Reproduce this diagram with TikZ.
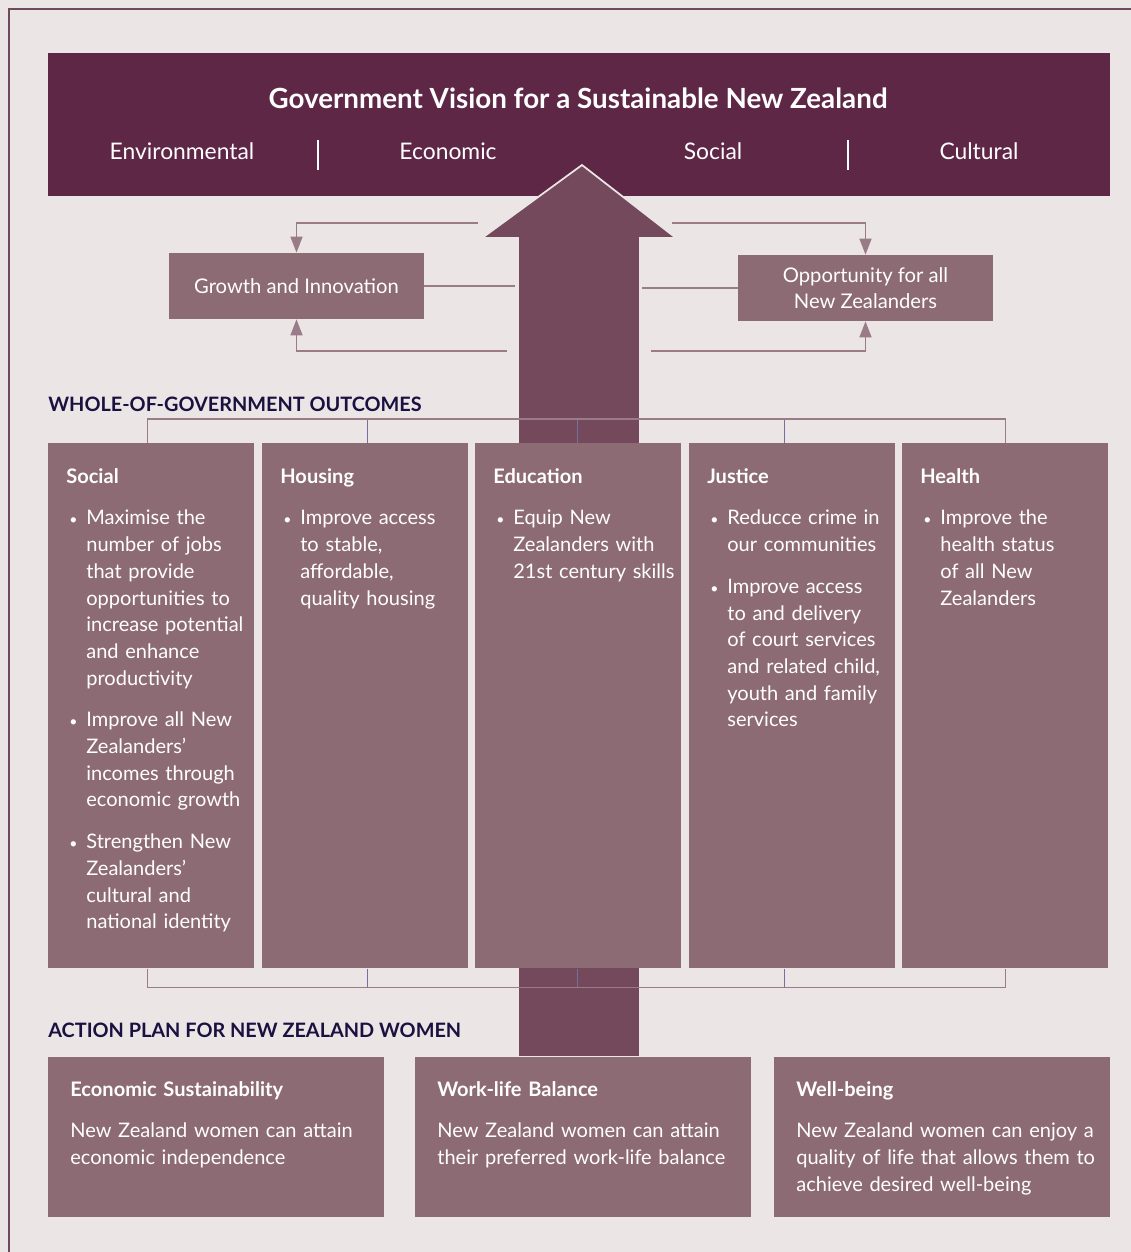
\documentclass[tikz,border=0pt]{standalone}
\usepackage{fontspec}
\setmainfont{Lato}
\usetikzlibrary{arrows.meta,positioning}

\definecolor{pagebg}{HTML}{EBE5E5}
\definecolor{framecol}{HTML}{6E4A5C}
\definecolor{visioncol}{HTML}{5E2746}
\definecolor{arrowcol}{HTML}{74495B}
\definecolor{boxcol}{HTML}{8D6B75}
\definecolor{headcol}{HTML}{1B1140}
\definecolor{linecol}{HTML}{9A7C88}
\definecolor{bluecol}{HTML}{76709A}

\newcommand{\bodyfont}{\fontsize{11.4pt}{15.2pt}\selectfont}
\newcommand{\outitem}[1]{\par\hangindent=0.4cm\hangafter=1\noindent\makebox[0.4cm][l]{\hspace{0.06cm}{\footnotesize\textbullet}}{\let\\\newline #1}\par}
\newcommand{\itemgap}{\par\vspace{0.3cm}}

\begin{document}
\begin{tikzpicture}[x=0.02cm, y=-0.02cm,
    visionbox/.style={fill=visioncol, anchor=north west, minimum width=21.24cm, minimum height=2.86cm, inner sep=0},
    goalbox/.style={fill=boxcol, text=white, minimum width=5.1cm, minimum height=1.32cm, align=center, font=\fontsize{11.5pt}{15pt}\selectfont, inner sep=0},
    outbox/.style={fill=boxcol, anchor=north west, minimum width=4.12cm, minimum height=10.5cm, inner sep=0},
    planbox/.style={fill=boxcol, anchor=north west, minimum width=6.72cm, minimum height=3.2cm, inner sep=0},
    boxtext/.style={anchor=north west, inner sep=0, text=white, align=left, font=\bodyfont},
    sechead/.style={anchor=west, inner sep=0, text=headcol, font=\bfseries\fontsize{11.3pt}{14pt}\selectfont},
    pillar/.style={text=white, inner sep=0, font=\fontsize{13pt}{15pt}\selectfont},
    conn/.style={linecol, line width=0.03cm},
    fork/.style={linecol, line width=0.03cm},
    forkmid/.style={bluecol, line width=0.03cm},
    tip/.style={-{Triangle[width=0.24cm,length=0.32cm]}}
  ]

  \useasboundingbox[fill=pagebg] (0,0) rectangle (1131,1252);
  \draw[framecol, line width=0.03cm] (9,1252) -- (9,9) -- (1131,9);

  % vision banner
  \node[visionbox] (vision) at (48,53) {};
  \node[text=white, inner sep=0, font=\bfseries\fontsize{15.8pt}{18pt}\selectfont] (title) at (578,98) {Government Vision for a Sustainable New Zealand};
  \node[pillar] (env) at (182,151) {Environmental};
  \node[pillar] (eco) at (448,151) {Economic};
  \node[pillar] (soc) at (713,151) {Social};
  \node[pillar] (cul) at (979,151) {Cultural};
  \draw[white, line width=0.045cm] (318,140) -- (318,170);
  \draw[white, line width=0.045cm] (848,140) -- (848,170);

  % big arrow
  \coordinate (tip) at (582,165);
  \coordinate (headl) at (482,238);
  \coordinate (headr) at (676,238);
  \fill[arrowcol, draw=pagebg, line width=0.035cm, line join=miter]
    (tip) -- (headr) -- (640,238) -- (640,1057) -- (518,1057) -- (518,238) -- (headl) -- cycle;

  % goals
  \node[goalbox] (growth) at (296.5,286) {Growth and Innovation};
  \node[goalbox] (opport) at (865.5,288) {Opportunity for all\\New Zealanders};

  \coordinate (gtop) at (478,223);
  \coordinate (gmid) at (515,287);
  \coordinate (gbot) at (507,351);
  \coordinate (otop) at (672,223);
  \coordinate (omid) at (642,288);
  \coordinate (obot) at (651,351);

  \draw[conn, tip] (gtop) -| (growth.north);
  \draw[conn, tip] (gbot) -| (growth.south);
  \draw[conn] (growth.east) -- (growth.east -| gmid);
  \draw[conn, tip] (otop) -| (opport.north);
  \draw[conn, tip] (obot) -| (opport.south);
  \draw[conn] (omid) -- (opport.west);

  % outcomes
  \node[sechead] (outhead) at (48,404) {WHOLE-OF-GOVERNMENT OUTCOMES};

  \node[outbox] (social) at (48,443) {};
  \node[outbox] (housing) at (262,443) {};
  \node[outbox] (educ) at (475,443) {};
  \node[outbox] (justice) at (689,443) {};
  \node[outbox] (health) at (902,443) {};

  \draw[fork] ([shift={(-4,0)}]social.north) -- ++(0,-24) -| (health.north);
  \draw[fork] ([shift={(-4,0)}]social.south) -- ++(0,19) -| (health.south);
  \foreach \b/\dx in {housing/2, educ/-1, justice/-8} {
    \draw[forkmid] ([shift={(\dx,0)}]\b.north) -- ++(0,-23);
    \draw[forkmid] ([shift={(\dx,0)}]\b.south) -- ++(0,18);
  }

  \node[boxtext, text width=3.8cm] at ([shift={(18,25)}]social.north west) {%
    \textbf{Social}\itemgap
    \outitem{Maximise the\\number of jobs\\that provide\\opportunities to\\increase potential\\and enhance\\productivity}\itemgap
    \outitem{Improve all New\\Zealanders'\\incomes through\\economic growth}\itemgap
    \outitem{Strengthen New\\Zealanders'\\cultural and\\national identity}};
  \node[boxtext, text width=3.8cm] at ([shift={(18,25)}]housing.north west) {%
    \textbf{Housing}\itemgap
    \outitem{Improve access\\to stable,\\affordable,\\quality housing}};
  \node[boxtext, text width=3.8cm] at ([shift={(18,25)}]educ.north west) {%
    \textbf{Education}\itemgap
    \outitem{Equip New\\Zealanders with\\21st century skills}};
  \node[boxtext, text width=3.8cm] at ([shift={(18,25)}]justice.north west) {%
    \textbf{Justice}\itemgap
    \outitem{Reducce crime in\\our communities}\itemgap
    \outitem{Improve access\\to and delivery\\of court services\\and related child,\\youth and family\\services}};
  \node[boxtext, text width=3.8cm] at ([shift={(18,25)}]health.north west) {%
    \textbf{Health}\itemgap
    \outitem{Improve the\\health status\\of all New\\Zealanders}};

  % action plan
  \node[sechead] (planhead) at (48,1030) {ACTION PLAN FOR NEW ZEALAND WOMEN};

  \node[planbox] (econ) at (48,1057) {};
  \node[planbox] (work) at (415,1057) {};
  \node[planbox] (well) at (774,1057) {};

  \node[boxtext, text width=6.4cm] at ([shift={(22,24)}]econ.north west) {%
    \textbf{Economic Sustainability}\itemgap
    New Zealand women can attain\\economic independence};
  \node[boxtext, text width=6.4cm] at ([shift={(22,24)}]work.north west) {%
    \textbf{Work-life Balance}\itemgap
    New Zealand women can attain\\their preferred work-life balance};
  \node[boxtext, text width=6.4cm] at ([shift={(22,24)}]well.north west) {%
    \textbf{Well-being}\itemgap
    New Zealand women can enjoy a\\quality of life that allows them to\\achieve desired well-being};

\end{tikzpicture}
\end{document}
